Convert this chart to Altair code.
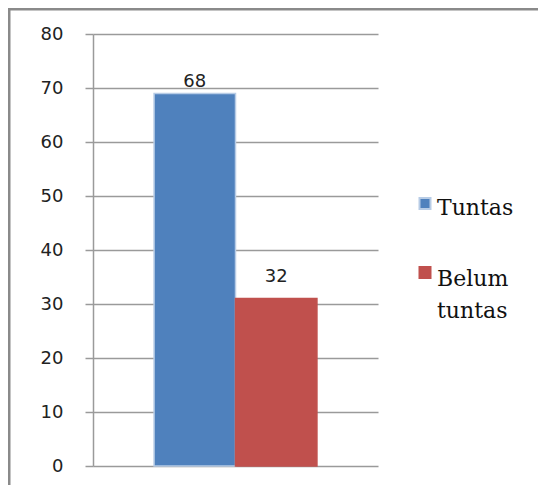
import altair as alt
import pandas as pd

categories = ["Tuntas", "Belum tuntas"]
bar_values = [69, 31]
label_values = [68, 32]
label_texts = ["68", "32"]
colors = ["#4F81BD", "#C0504D"]
outline = ["#B7CCE6", "#C0504D"]
y_ticks = [0, 10, 20, 30, 40, 50, 60, 70, 80]

df = pd.DataFrame({
    "series": categories,
    "value": bar_values,
    "label_value": label_values,
    "label": label_texts,
})

W, H = 285, 432
PAD = {"left": 85, "top": 26, "right": 160, "bottom": 19}

xscale = alt.Scale(domain=categories, paddingInner=0, paddingOuter=0.75)
cscale = alt.Scale(domain=categories, range=colors)
sscale = alt.Scale(domain=categories, range=outline)
yscale = alt.Scale(domain=[0, 80], nice=False)

base = alt.Chart(df)

bars = base.mark_bar(strokeWidth=1.5).encode(
    x=alt.X("series:N", scale=xscale, axis=None, sort=categories),
    y=alt.Y("value:Q", scale=yscale, title=None,
            axis=alt.Axis(values=y_ticks, tickSize=8, labelPadding=22,
                          domainColor="#9a9a9a", gridColor="#9a9a9a",
                          tickColor="#9a9a9a", domainWidth=1.5, gridWidth=1.5,
                          tickWidth=1.5, labelFont="DejaVu Sans",
                          labelFontSize=18, labelColor="#222222", grid=True)),
    color=alt.Color("series:N", scale=cscale, legend=None),
    stroke=alt.Stroke("series:N", scale=sscale, legend=None),
)

labels = base.mark_text(font="DejaVu Sans", fontSize=18, color="#222222",
                        baseline="alphabetic", dy=-11.5).encode(
    x=alt.X("series:N", scale=xscale, axis=None, sort=categories),
    y=alt.Y("label_value:Q", scale=yscale),
    text="label:N",
)

frame_left = alt.Chart(pd.DataFrame({"a": [0]})).mark_rule(
    color="#8a8a8a", strokeWidth=3).encode(
    x=alt.value(-84), y=alt.value(-26), y2=alt.value(H + PAD["bottom"]))
frame_top = alt.Chart(pd.DataFrame({"a": [0]})).mark_rule(
    color="#8a8a8a", strokeWidth=3).encode(
    x=alt.value(-85), x2=alt.value(W + PAD["right"]), y=alt.value(-25))

legend_layers = []
leg_y = [169.5, 238.5]
txt_y = [181, 252]
for i, cat in enumerate(categories):
    d = pd.DataFrame({"series": [cat]})
    sw = alt.Chart(d).mark_square(size=121, strokeWidth=2,
                                  stroke=outline[i], fill=colors[i],
                                  opacity=1).encode(
        x=alt.value(332), y=alt.value(leg_y[i]))
    tx = alt.Chart(d).mark_text(font="DejaVu Serif", fontSize=22,
                                color="#111111", align="left",
                                baseline="alphabetic", lineBreak=" ",
                                lineHeight=32).encode(
        x=alt.value(344), y=alt.value(txt_y[i]), text="series:N")
    legend_layers += [sw, tx]

chart = alt.layer(frame_left, frame_top, bars, labels, *legend_layers).properties(
    width=W, height=H, padding=PAD,
    autosize=alt.AutoSizeParams(type="none"),
    background="white",
).configure_view(stroke=None)

chart.save("out.html", embed_options={"renderer": "svg", "actions": False})
